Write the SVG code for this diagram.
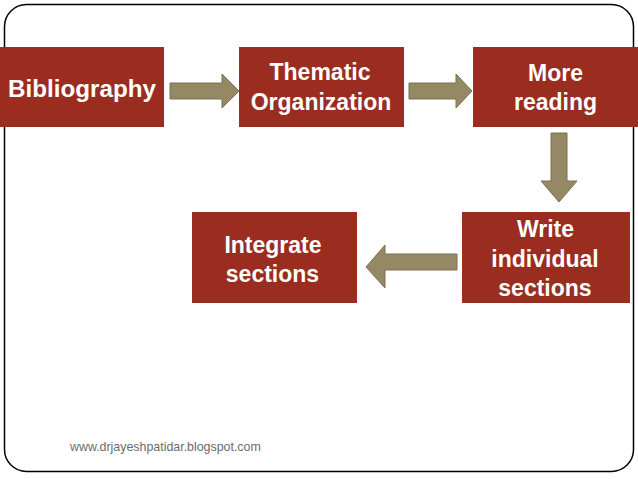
<svg xmlns="http://www.w3.org/2000/svg" width="638" height="479" viewBox="0 0 638 479">
<style>
.box{fill:#9b2c20;}
.lbl{font-family:"Liberation Sans",Arial,sans-serif;font-weight:bold;font-size:23px;fill:#ffffff;text-anchor:middle;}
.arr{fill:#948865;stroke:#7d7152;stroke-width:1;}
.foot{font-family:"Liberation Sans",Arial,sans-serif;font-size:12.4px;fill:#6b6b6b;}
</style>
<rect x="0" y="0" width="638" height="479" fill="#ffffff"/>
<rect x="4.5" y="4.5" width="629" height="467" rx="22" ry="22" fill="none" stroke="#000000" stroke-width="1.5"/>
<g id="connectors">
<polygon class="arr" points="170,83 222,83 222,74 239,91 222,108 222,99 170,99"/>
<polygon class="arr" points="409,83 456,83 456,74 472,91 456,108 456,99 409,99"/>
<polygon class="arr" points="551,133 567,133 567,181 577,181 559,202 541,181 551,181"/>
<polygon class="arr" points="457,254 385,254 385,245 366,267 385,288 385,270 457,270"/>
</g>
<g id="bibliography">
<rect class="box" x="0" y="47" width="164" height="80"/>
<text class="lbl" x="82" y="97" textLength="148" lengthAdjust="spacingAndGlyphs">Bibliography</text>
</g>
<g id="thematic">
<rect class="box" x="239" y="47" width="165" height="80"/>
<text class="lbl" x="320" y="80">Thematic</text>
<text class="lbl" x="321" y="110">Organization</text>
</g>
<g id="more-reading">
<rect class="box" x="473" y="47" width="165" height="80"/>
<text class="lbl" x="555.5" y="81">More</text>
<text class="lbl" x="555.5" y="110">reading</text>
</g>
<g id="write">
<rect class="box" x="462" y="212" width="168" height="91"/>
<text class="lbl" x="545.5" y="237">Write</text>
<text class="lbl" x="545" y="267">individual</text>
<text class="lbl" x="545" y="296">sections</text>
</g>
<g id="integrate">
<rect class="box" x="192" y="212" width="165" height="91"/>
<text class="lbl" x="273" y="253">Integrate</text>
<text class="lbl" x="272.5" y="282">sections</text>
</g>
<text class="foot" x="70" y="451">www.drjayeshpatidar.blogspot.com</text>
</svg>
